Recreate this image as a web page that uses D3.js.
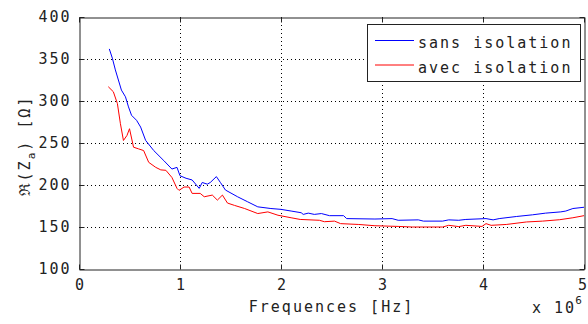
<!DOCTYPE html>
<html><head><meta charset="utf-8">
<script src="https://cdn.jsdelivr.net/npm/d3@7"></script>
<style>
body{margin:0;background:#fff;}
text{font-family:"DejaVu Sans Mono",monospace;font-size:15px;letter-spacing:2px;fill:#222;}
</style></head><body>
<svg id="c" width="588" height="324"></svg>
<script>
// Frequencies in MHz (axis shows x 10^6 Hz)
const freqSans = [0.30,0.33,0.36,0.39,0.42,0.46,0.49,0.52,0.57,0.61,0.66,0.74,0.84,0.92,0.97,1.00,1.06,1.12,1.19,1.22,1.27,1.30,1.36,1.40,1.45,1.57,1.67,1.77,1.90,2.00,2.10,2.20,2.22,2.27,2.33,2.40,2.48,2.62,2.65,2.93,3.10,3.16,3.36,3.41,3.60,3.66,3.76,3.83,4.03,4.10,4.16,4.33,4.49,4.62,4.77,4.82,4.89,5.00];
const sansIsolation = [362,351,337,325,313,305,293,283,277,269,253,241,229,219,221,211,208,206,196,203,201,203,210,203,194,186,180,174,172,171,169,167,165,166.5,165,166,163.5,163.5,160,159.5,160,158,158.5,157,157,158.5,158,159,160,158.5,160,162.5,164.5,166.5,168,169,172,173.5];
const freqAvec = [0.29,0.34,0.38,0.41,0.44,0.475,0.50,0.54,0.59,0.64,0.69,0.76,0.81,0.86,0.92,0.97,0.99,1.04,1.09,1.12,1.20,1.24,1.32,1.37,1.42,1.47,1.54,1.64,1.77,1.87,1.97,2.10,2.19,2.38,2.43,2.53,2.59,2.77,2.93,3.16,3.30,3.60,3.66,3.76,3.83,3.99,4.03,4.08,4.23,4.43,4.59,4.76,4.89,5.00];
const avecIsolation = [317,311,297,273,253,259,267,245,243,241,227,221,218,217.5,209,196,193.6,197.6,197.6,190,190,186,188,182,188,178.5,175.7,172,166,168,164,161,159,158,156.3,157,154,153,151.5,150.7,150,150,152,150.5,152,150.7,154,152,153,156,157,158.7,161,163.5];
const xTicks = [0,1,2,3,4,5];
const yTicks = [100,150,200,250,300,350,400];
const seriesNames = ["sans isolation","avec isolation"];
const seriesColors = ["#0000ff","#ff0000"];

const svg = d3.select("#c");
const L=79,R=584,T=17,B=269;
const x = d3.scaleLinear().domain([0,5]).range([L,R]);
const y = d3.scaleLinear().domain([100,400]).range([B,T]);

svg.append("rect").attr("width",588).attr("height",324).attr("fill","#fff");

// grid
const g = svg.append("g");
g.selectAll(".gx").data(xTicks.slice(1,-1)).join("line")
  .attr("x1",d=>x(d)+0.5).attr("x2",d=>x(d)+0.5).attr("y1",T).attr("y2",B)
  .attr("stroke","#000").attr("stroke-dasharray","1,3");
g.selectAll(".gy").data(yTicks.slice(1,-1)).join("line")
  .attr("y1",d=>Math.round(y(d))+0.5).attr("y2",d=>Math.round(y(d))+0.5).attr("x1",L).attr("x2",R)
  .attr("stroke","#000").attr("stroke-dasharray","1,3");

// lines
const line = d3.line().x(d=>x(d[0])).y(d=>y(d[1]));
const dSans = freqSans.map((f,i)=>[f,sansIsolation[i]]);
const dAvec = freqAvec.map((f,i)=>[f,avecIsolation[i]]);
svg.append("path").datum(dSans).attr("d",line).attr("fill","none").attr("stroke",seriesColors[0]).attr("stroke-width",1);
svg.append("path").datum(dAvec).attr("d",line).attr("fill","none").attr("stroke",seriesColors[1]).attr("stroke-width",1);

// axes
const ax = svg.append("g").attr("transform",`translate(0,${B+0.5})`)
  .call(d3.axisBottom(x).tickValues(xTicks).tickFormat(d3.format("d")).tickSizeInner(-5).tickSizeOuter(0).tickPadding(10));
const ay = svg.append("g").attr("transform",`translate(${L+0.5},0)`)
  .call(d3.axisLeft(y).tickValues(yTicks).tickSizeInner(-5).tickSizeOuter(0).tickPadding(8));
const axT = svg.append("g").attr("transform",`translate(0,${T+0.5})`)
  .call(d3.axisTop(x).tickValues(xTicks).tickFormat("").tickSizeInner(-5).tickSizeOuter(0));
const ayR = svg.append("g").attr("transform",`translate(${R+0.5},0)`)
  .call(d3.axisRight(y).tickValues(yTicks).tickFormat("").tickSizeInner(-5).tickSizeOuter(0));
[ax,ay,axT,ayR].forEach(a=>{
  a.selectAll("path").attr("stroke","#222");
  a.selectAll("line").attr("stroke","#222");
  a.selectAll("text").attr("font-family",null).attr("font-size",null).style("fill","#222");
});
ax.selectAll("text").attr("dy","0.71em").attr("transform","translate(1,0)");
ax.selectAll(".tick:last-of-type text").attr("transform","translate(-1,0)");

// axis labels
svg.append("text").attr("x",(L+R)/2).attr("y",312).attr("text-anchor","middle").text("Frequences [Hz]");
const xl = svg.append("text").attr("x",532).attr("y",313);
xl.append("tspan").text("x 10");
xl.append("tspan").attr("dy",-9).attr("dx",-1).attr("font-size","11px").style("letter-spacing","0px").text("6");

const yl = svg.append("text").attr("transform","translate(30,146) rotate(-90)").attr("text-anchor","middle");
yl.append("tspan").text("ℜ(Z");
yl.append("tspan").attr("dy",5).attr("font-size","11px").text("a");
yl.append("tspan").attr("dy",-5).text(")  [Ω]");

// legend
const lg = svg.append("g");
lg.append("rect").attr("x",367.5).attr("y",24.5).attr("width",213).attr("height",57).attr("fill","#fff").attr("stroke","#222");
seriesNames.forEach((n,i)=>{
  const yy = 40+i*24.5;
  lg.append("line").attr("x1",375).attr("x2",414).attr("y1",yy+0.5).attr("y2",yy+0.5).attr("stroke",seriesColors[i]);
  lg.append("text").attr("x",418).attr("y",yy+8).text(n);
});
</script></body></html>
